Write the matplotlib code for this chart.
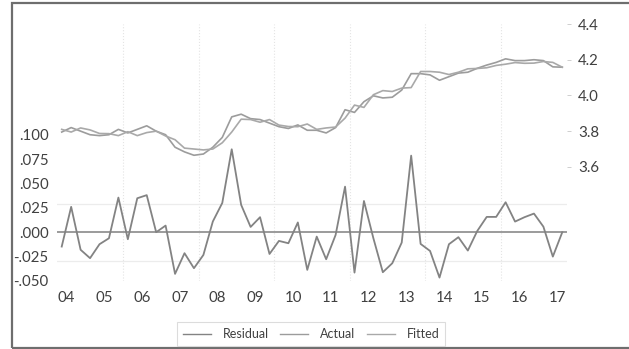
import numpy as np
import matplotlib
matplotlib.use("Agg")
import matplotlib.pyplot as plt
from matplotlib.lines import Line2D
from matplotlib.patches import Rectangle

# Datos trimestrales 2004Q1 - 2017Q2
etiquetas_anio = ["04", "05", "06", "07", "08", "09", "10",
                  "11", "12", "13", "14", "15", "16", "17"]

residual = [-0.0147, 0.026, -0.018, -0.0266, -0.0123, -0.0062, 0.0355, -0.0072,
            0.0348, 0.038, 0.0, 0.0068, -0.0427, -0.0215, -0.0369, -0.0233,
            0.011, 0.030, 0.085, 0.028, 0.0054, 0.0154, -0.0223, -0.0089,
            -0.0113, 0.010, -0.0386, -0.0045, -0.0277, -0.0028, 0.0467, -0.0414,
            0.032, -0.0062, -0.041, -0.0318, -0.0106, 0.0785, -0.012, -0.0192,
            -0.0465, -0.0123, -0.0051, -0.0188, 0.0013, 0.0157, 0.0157, 0.0307,
            0.0109, 0.0154, 0.0191, 0.0057, -0.025, 0.0]

actual = [3.795, 3.82, 3.80, 3.78, 3.775, 3.78, 3.81, 3.79,
          3.81, 3.83, 3.80, 3.78, 3.71, 3.684, 3.665, 3.672,
          3.71, 3.765, 3.88, 3.895, 3.87, 3.865, 3.845, 3.825,
          3.815, 3.835, 3.805, 3.805, 3.79, 3.82, 3.92, 3.905,
          3.965, 3.998, 3.986, 3.99, 4.03, 4.122, 4.122, 4.115,
          4.085, 4.105, 4.125, 4.13, 4.152, 4.17, 4.185, 4.205,
          4.195, 4.195, 4.2, 4.195, 4.16, 4.158]

fitted = [3.81, 3.795, 3.818, 3.807, 3.787, 3.786, 3.775, 3.797,
          3.775, 3.792, 3.80, 3.773, 3.752, 3.705, 3.70, 3.695,
          3.70, 3.735, 3.795, 3.867, 3.865, 3.85, 3.865, 3.834,
          3.826, 3.825, 3.84, 3.81, 3.818, 3.823, 3.873, 3.946,
          3.933, 4.004, 4.027, 4.022, 4.041, 4.044, 4.134, 4.134,
          4.13, 4.117, 4.13, 4.149, 4.151, 4.155, 4.168, 4.175,
          4.184, 4.18, 4.181, 4.19, 4.185, 4.158]

ticks_izq = [-0.05, -0.025, 0.0, 0.025, 0.05, 0.075, 0.1]
ticks_der = [3.6, 3.8, 4.0, 4.2, 4.4]
rejilla_h = [-0.0294, 0.0294]

plt.rcParams['font.family'] = ['Lato', 'DejaVu Sans']

W, H = 629, 349
fig = plt.figure(figsize=(W / 100, H / 100), dpi=100)

# area del grafico en pixeles: x 57..567, y 24..281
ax = fig.add_axes([57 / W, (H - 281) / H, 510 / W, 257 / H])
ax2 = ax.twinx()

x = np.arange(len(residual))

# Residuo en el eje izquierdo
ax.plot(x, residual, color='#838383', lw=1.3, zorder=3)
ax.axhline(0, color='#8a8a8a', lw=1.2, zorder=2)
ax.set_xlim(-0.5, len(residual) - 0.5)
ax.set_ylim(-0.0499, 0.2134)
ax.set_yticks(ticks_izq)
ax.set_yticklabels([("-" if t < 0 else "") + ("%.3f" % abs(t))[1:] for t in ticks_izq])
ax.set_yticks(rejilla_h, minor=True)
ax.grid(which='minor', axis='y', color='#ececec', lw=0.9)

# Eje x: etiquetas de anio y rejilla vertical
ax.set_xticks(np.arange(len(etiquetas_anio)) * 4 + 0.5)
ax.set_xticklabels(etiquetas_anio)
ax.set_xticks(np.arange(6) * 8 + 6.5, minor=True)
ax.grid(which='minor', axis='x', color='#e4e4e4', lw=0.8, linestyle=':')
ax.tick_params(axis='x', which='both', length=0, pad=7, labelsize=10.8, colors='#404040')
ax.tick_params(axis='y', which='both', length=0, pad=6, labelsize=10.8, colors='#404040')

# Actual y Fitted en el eje derecho
ax2.plot(x, actual, color='#9c9c9c', lw=1.2, zorder=3)
ax2.plot(x, fitted, color='#a9a9a9', lw=1.2, zorder=3)
ax2.set_ylim(2.961, 4.398)
ax2.set_yticks(ticks_der)
ax2.set_yticklabels(["%.1f" % t for t in ticks_der])
ax2.tick_params(axis='y', length=3, width=0.6, color='#c8c8c8', pad=5,
                labelsize=10.8, colors='#404040')
ax2.tick_params(axis='y', color='#c8c8c8')

for a in (ax, ax2):
    for s in a.spines.values():
        s.set_visible(False)

# Leyenda
handles = [Line2D([], [], color='#838383', lw=1.0),
           Line2D([], [], color='#9c9c9c', lw=1.0),
           Line2D([], [], color='#a9a9a9', lw=1.0)]
leg = fig.legend(handles, ['Residual', 'Actual', 'Fitted'], ncol=3,
                 loc='center', bbox_to_anchor=(311 / W, 1 - 334 / H),
                 fontsize=9, frameon=True, fancybox=False,
                 handlelength=2.25, handletextpad=0.95, columnspacing=0.9,
                 borderpad=0.45, labelcolor='#404040')
leg.get_frame().set_edgecolor('#d4d4d4')
leg.get_frame().set_linewidth(0.8)

# Marco exterior
fig.add_artist(Rectangle((12.2 / W, 1.4 / H), 1.0, (344.2) / H,
                         transform=fig.transFigure, fill=False,
                         ec='#6e6e6e', lw=1.6))

fig.savefig("out.png", dpi=100)
